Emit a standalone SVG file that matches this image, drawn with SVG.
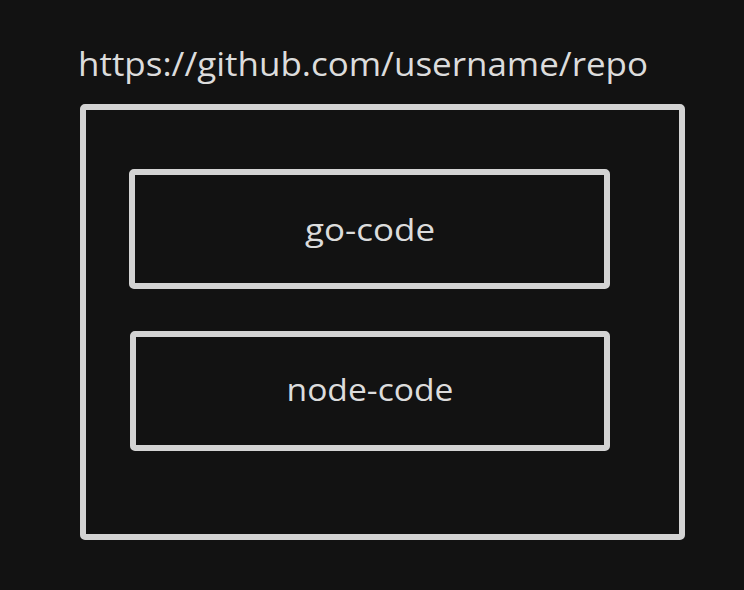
<svg xmlns="http://www.w3.org/2000/svg" width="744" height="590" viewBox="0 0 744 590">
<style>
.box{fill:#121212;stroke:#d3d3d3;stroke-width:6;stroke-linejoin:round}
.t{fill:#dcdcdc;font-family:"Open Sans","Liberation Sans",sans-serif}
</style>
<rect width="744" height="590" fill="#121212"/>
<g id="title">
<text class="t" x="78" y="76" font-size="32" textLength="570" lengthAdjust="spacingAndGlyphs">https://github.com/username/repo</text>
</g>
<g id="repo">
<rect class="box" x="83" y="107" width="599" height="430" rx="2"/>
</g>
<g id="go-code">
<rect class="box" x="132" y="172" width="475" height="114" rx="2"/>
<text class="t" x="370" y="241" font-size="31" text-anchor="middle" textLength="130" lengthAdjust="spacingAndGlyphs">go-code</text>
</g>
<g id="node-code">
<rect class="box" x="133" y="334" width="474" height="114" rx="2"/>
<text class="t" x="370" y="401" font-size="31" text-anchor="middle" textLength="167" lengthAdjust="spacingAndGlyphs">node-code</text>
</g>
<g id="connectors"/>
</svg>
